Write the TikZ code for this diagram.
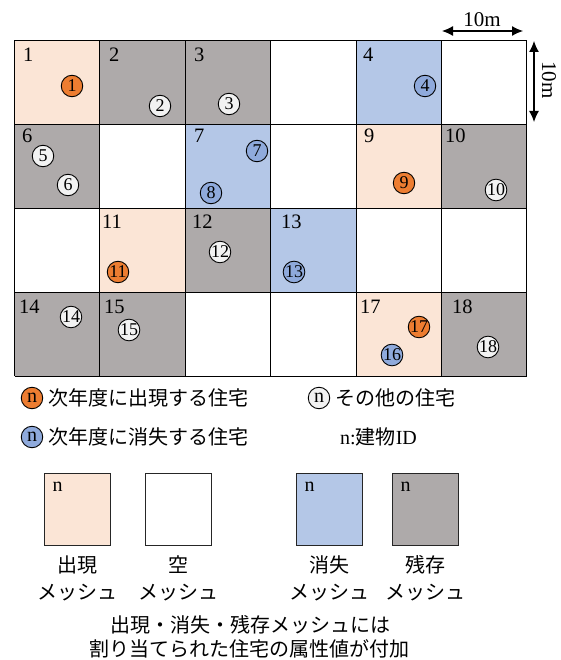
\documentclass[tikz,border=0pt]{standalone}
\usepackage{fontspec}
\setmainfont{Liberation Serif}
\newfontfamily\jp{Noto Sans CJK JP}
\usetikzlibrary{arrows.meta}
\definecolor{peach}{HTML}{FBE5D6}
\definecolor{meshgray}{HTML}{AEAAAA}
\definecolor{meshblue}{HTML}{B4C7E7}
\definecolor{hor}{HTML}{ED7D31}
\definecolor{hbl}{HTML}{8FAADC}
\definecolor{hwh}{HTML}{F2F2F2}
\begin{document}
\begin{tikzpicture}[x=1pt,y=-1pt,
  house/.style={circle,draw=black,line width=0.9pt,minimum size=21.5pt,inner sep=0pt,font=\fontsize{18}{18}\selectfont},
  hO/.style={house,fill=hor},
  hB/.style={house,fill=hbl},
  hW/.style={house,fill=hwh},
  cellnum/.style={anchor=base west,inner sep=0pt,font=\fontsize{20.5}{20.5}\selectfont},
  jptext/.style={inner sep=0pt,font=\jp\fontsize{20}{20}\selectfont},
  legbox/.style={draw=black!85,line width=1pt,minimum width=66pt,minimum height=72pt,inner sep=0pt},
  dimarrow/.style={line width=1.2pt,{Latex[length=11pt,width=10pt]}-{Latex[length=11pt,width=10pt]}},
  dimtext/.style={inner sep=0pt,font=\fontsize{21}{21}\selectfont}
]
\useasboundingbox (0,0) rectangle (561,660);
\fill[white] (0,0) rectangle (561,660);
% cell fills
\foreach \c/\r/\col in {0/0/peach,4/1/peach,1/2/peach,4/3/peach,
  1/0/meshgray,2/0/meshgray,0/1/meshgray,5/1/meshgray,2/2/meshgray,0/3/meshgray,1/3/meshgray,5/3/meshgray,
  4/0/meshblue,2/1/meshblue,3/2/meshblue}
  \fill[\col] ({14.5+85.37*\c},{40.5+83.9*\r}) rectangle ++(85.37,83.9);
% grid lines
\foreach \c in {0,...,6}
  \draw[line width=0.9pt] ({14.5+85.37*\c},40.5) -- ({14.5+85.37*\c},376.1);
\foreach \r in {0,...,4}
  \draw[line width=0.9pt] (14.5,{40.5+83.9*\r}) -- (526.7,{40.5+83.9*\r});
% cell numbers
\node[cellnum] (m1) at (23,62) {1};
\node[cellnum] (m2) at (109,62) {2};
\node[cellnum] (m3) at (194,62) {3};
\node[cellnum] (m4) at (363,62) {4};
\node[cellnum] (m6) at (22,143) {6};
\node[cellnum] (m7) at (194,143) {7};
\node[cellnum] (m9) at (364,143) {9};
\node[cellnum] (m10) at (445,143) {10};
\node[cellnum] (m11) at (102,228) {11};
\node[cellnum] (m12) at (192,228) {12};
\node[cellnum] (m13) at (281,228) {13};
\node[cellnum] (m14) at (19,313) {14};
\node[cellnum] (m15) at (104,313) {15};
\node[cellnum] (m17) at (360,313) {17};
\node[cellnum] (m18) at (452,313) {18};
% houses
\node[hO] (h1) at (72,86) {1};
\node[hW] (h2) at (160,106) {2};
\node[hW] (h3) at (229,104) {3};
\node[hB] (h4) at (425,86) {4};
\node[hW] (h5) at (43,156) {5};
\node[hW] (h6) at (68,185) {6};
\node[hB] (h7) at (257,151) {7};
\node[hB] (h8) at (211,193) {8};
\node[hO] (h9) at (404,183) {9};
\node[hW] (h10) at (496,190) {10};
\node[hO] (h11) at (118,272) {11};
\node[hW] (h12) at (220,252) {12};
\node[hB] (h13) at (294,272) {13};
\node[hW] (h14) at (71,317) {14};
\node[hW] (h15) at (129,330) {15};
\node[hB] (h16) at (392,355) {16};
\node[hO] (h17) at (419,327) {17};
\node[hW] (h18) at (488,347) {18};
% dimension arrows
\coordinate (dxa) at (442,31);
\coordinate (dxb) at (523,31);
\draw[dimarrow] (dxa) -- (dxb);
\node[dimtext] (dxt) at (482,20) {10m};
\coordinate (dya) at (534,41);
\coordinate (dyb) at (534,122);
\draw[dimarrow] (dya) -- (dyb);
\node[dimtext,rotate=-90] (dyt) at (549,80) {10m};
% legend: houses
\node[hO,font=\fontsize{20}{20}\selectfont] (lo) at (32,398) {n};
\node[jptext,anchor=west] (lot) at (48,398) {次年度に出現する住宅};
\node[hW,font=\fontsize{20}{20}\selectfont] (lw) at (319,398) {n};
\node[jptext,anchor=west] (lwt) at (335,398) {その他の住宅};
\node[hB,font=\fontsize{20}{20}\selectfont] (lb) at (32,437) {n};
\node[jptext,anchor=west] (lbt) at (48,437) {次年度に消失する住宅};
\node[anchor=west,inner sep=0pt,font=\fontsize{20}{20}\selectfont] (lid) at (340,437) {n:{\jp 建物}ID};
% legend: meshes
\node[legbox,fill=peach] (bA) at (77,509) {};
\node[legbox,fill=white] (bE) at (178,509) {};
\node[legbox,fill=meshblue] (bV) at (329,509) {};
\node[legbox,fill=meshgray] (bR) at (425,509) {};
\foreach \b in {bA,bV,bR}
  \node[anchor=base west,inner sep=0pt,font=\fontsize{20}{20}\selectfont] at ([xshift=9pt,yshift=-19pt]\b.north west) {n};
\node[jptext] (tA1) at (77,565) {出現};
\node[jptext] (tA2) at (77,593) {メッシュ};
\node[jptext] (tE1) at (178,565) {空};
\node[jptext] (tE2) at (178,593) {メッシュ};
\node[jptext] (tV1) at (329,565) {消失};
\node[jptext] (tV2) at (329,593) {メッシュ};
\node[jptext] (tR1) at (425,565) {残存};
\node[jptext] (tR2) at (425,593) {メッシュ};
\node[jptext] (n1) at (250,625) {出現・消失・残存メッシュには};
\node[jptext] (n2) at (249,649) {割り当てられた住宅の属性値が付加};
\end{tikzpicture}
\end{document}
